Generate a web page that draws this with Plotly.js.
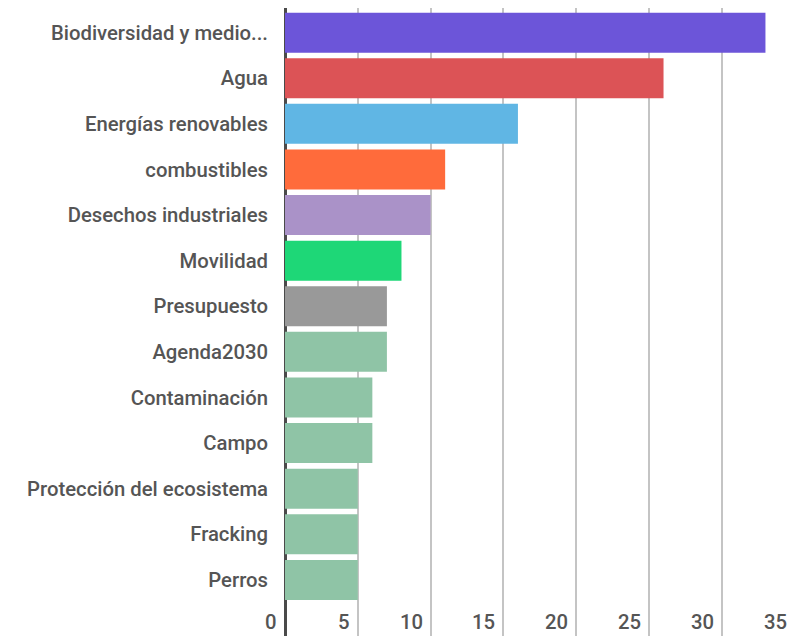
<!DOCTYPE html>
<html>
<head>
<meta charset="utf-8">
<script src="https://cdn.plot.ly/plotly-3.0.1.min.js"></script>
<style>html,body{margin:0;padding:0;background:#fff;}#chart{width:808px;height:636px;}</style>
</head>
<body>
<div id="chart"></div>
<script>
const categories = ["Biodiversidad y medio...", "Agua", "Energías renovables", "combustibles", "Desechos industriales", "Movilidad", "Presupuesto", "Agenda2030", "Contaminación", "Campo", "Protección del ecosistema", "Fracking", "Perros"];
const values = [33, 26, 16, 11, 10, 8, 7, 7, 6, 6, 5, 5, 5];
const barColors = ["#6c55d9", "#dc5356", "#60b6e4", "#ff6b3b", "#aa92c8", "#1ed777", "#999999", "#8fc4a6", "#8fc4a6", "#8fc4a6", "#8fc4a6", "#8fc4a6", "#8fc4a6"];
const xTicks = [0, 5, 10, 15, 20, 25, 30, 35];

const labelFont = {family: "Roboto, sans-serif", size: 20.3, color: "#555555", weight: 500};

const trace = {
  type: "bar",
  orientation: "h",
  y: categories,
  x: values,
  marker: {color: barColors, line: {width: 0}},
  hoverinfo: "x+y"
};

const annotations = xTicks.map(t => ({
  x: t, xref: "x", y: 0, yref: "paper",
  text: String(t), showarrow: false,
  xanchor: "right", yanchor: "bottom",
  xshift: -6, yshift: 0,
  font: labelFont
}));

const layout = {
  width: 808, height: 636,
  margin: {l: 285, r: 13, t: 8, b: 0},
  paper_bgcolor: "#ffffff",
  plot_bgcolor: "#ffffff",
  showlegend: false,
  bargap: 0.123,
  xaxis: {
    range: [0, 35.03],
    tickvals: xTicks,
    showticklabels: false,
    showgrid: true,
    gridcolor: "#c4c4c4",
    gridwidth: 2,
    zeroline: true,
    zerolinecolor: "#4a4a4a",
    zerolinewidth: 3,
    showline: false,
    fixedrange: true
  },
  yaxis: {
    type: "category",
    categoryorder: "array",
    categoryarray: categories,
    range: [13.23, -0.54],
    showgrid: false,
    zeroline: false,
    showline: false,
    ticks: "",
    ticklabelstandoff: 16,
    tickfont: labelFont,
    automargin: false,
    fixedrange: true
  },
  annotations: annotations
};

Plotly.newPlot("chart", [trace], layout, {displayModeBar: false, staticPlot: true});
</script>
</body>
</html>
